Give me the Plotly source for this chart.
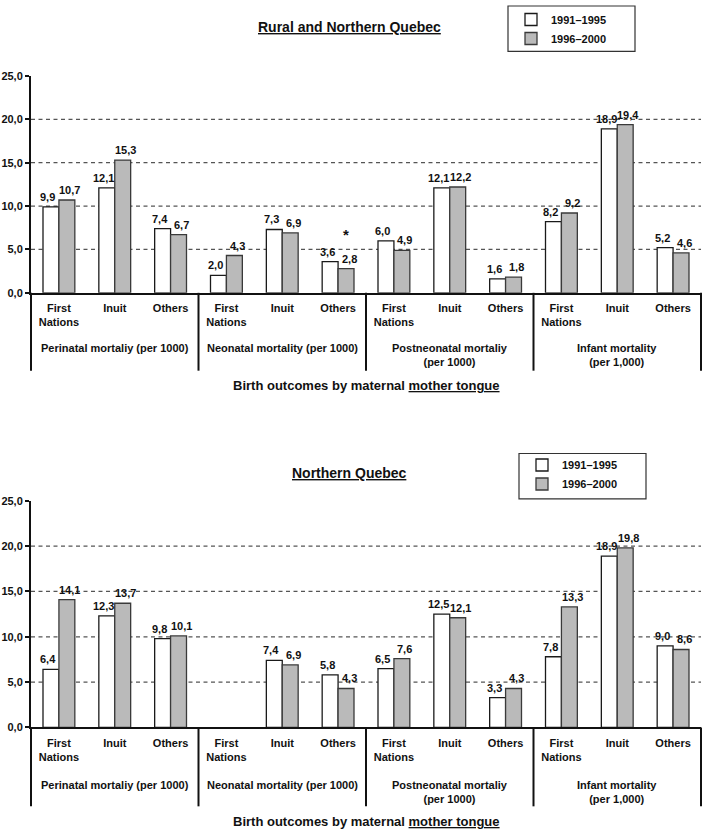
import plotly.graph_objects as go

# ---------------- data ----------------
CATEGORIES = ["First<br>Nations", "Inuit", "Others"] * 4
GROUPS = [
    "Perinatal mortaliy (per 1000)",
    "Neonatal mortality (per 1000)",
    "Postneonatal mortaliy<br>(per 1000)",
    "Infant mortality<br>(per 1,000)",
]
SERIES = ["1991–1995", "1996–2000"]
Y_TICKS = [0, 5, 10, 15, 20, 25]

TOP_TITLE = "Rural and Northern Quebec"
BOTTOM_TITLE = "Northern Quebec"
X_TITLE = "Birth outcomes by maternal <u>mother tongue</u>"

TOP_1991 = [9.9, 12.1, 7.4, 2.0, 7.3, 3.6, 6.0, 12.1, 1.6, 8.2, 18.9, 5.2]
TOP_1996 = [10.7, 15.3, 6.7, 4.3, 6.9, 2.8, 4.9, 12.2, 1.8, 9.2, 19.4, 4.6]
BOT_1991 = [6.4, 12.3, 9.8, None, 7.4, 5.8, 6.5, 12.5, 3.3, 7.8, 18.9, 9.0]
BOT_1996 = [14.1, 13.7, 10.1, None, 6.9, 4.3, 7.6, 12.1, 4.3, 13.3, 19.8, 8.6]
STAR_CATEGORY = 5  # neonatal "Others" in the top panel, 1996-2000

# ---------------- layout helpers ----------------
W, H = 703, 835
ML, MR = 31, 2
PW = W - ML - MR
FONT = "Liberation Sans, Arial, sans-serif"
WHITE_FILL, WHITE_LINE = "#ffffff", "#1a1a1a"
GRAY_FILL, GRAY_LINE = "#bababa", "#3a3a3a"
BARGAP = 0.43
IDX = list(range(len(CATEGORIES)))
N_PER_GROUP = 3
HALF_OFFSET = (1 - BARGAP) / 4  # centre of each bar in a 2-bar group, in category units
LABEL_FONT = dict(family=FONT, size=11, color="#111", weight="bold")


def py(pixel):
    return 1 - pixel / H


def pxx(pixel):
    return (pixel - ML) / PW


def fmt(v):
    return f"{v:.1f}".replace(".", ",")


panels = [
    dict(sfx="", leg="legend", d1=TOP_1991, d2=TOP_1996, ybot=291, ytop=71,
         divbot=370, grp=339, xt=385, title=TOP_TITLE, ttl=21,
         box=(508, 0, 635, 46), legx=511, legy=-1),
    dict(sfx="2", leg="legend2", d1=BOT_1991, d2=BOT_1996, ybot=732, ytop=502,
         divbot=812, grp=782, xt=827, title=BOTTOM_TITLE, ttl=474,
         box=(519, 454, 646, 500), legx=522, legy=451),
]

fig = go.Figure()
shapes, annotations = [], []
layout_axes = {}
legends = {}

for p in panels:
    xa, ya = "x" + p["sfx"], "y" + p["sfx"]
    for k, (name, vals, fill, line) in enumerate([
        (SERIES[0], p["d1"], WHITE_FILL, WHITE_LINE),
        (SERIES[1], p["d2"], GRAY_FILL, GRAY_LINE),
    ]):
        fig.add_trace(go.Bar(
            x=IDX, y=vals, name=name, xaxis=xa, yaxis=ya, legend=p["leg"],
            marker=dict(color=fill, line=dict(color=line, width=1.3)),
            hoverinfo="skip",
        ))
        # value labels drawn above all bars
        sign = -1 if k == 0 else 1
        for i, v in zip(IDX, vals):
            if v is None:
                continue
            annotations.append(dict(
                text=fmt(v), xref=xa, yref=ya, x=i + sign * HALF_OFFSET, y=v,
                xshift=sign * 3, yshift=2, xanchor="center", yanchor="bottom",
                showarrow=False, font=LABEL_FONT,
            ))

    layout_axes["xaxis" + p["sfx"]] = dict(
        domain=[0, 1], anchor=ya, range=[-0.5, len(IDX) - 0.5],
        tickvals=IDX, ticktext=CATEGORIES, ticks="", ticklabelstandoff=4,
        tickfont=dict(family=FONT, size=11, color="#111", weight="bold"),
        showline=True, linecolor="#111", linewidth=2,
        showgrid=False, zeroline=False, fixedrange=True,
    )
    layout_axes["yaxis" + p["sfx"]] = dict(
        domain=[py(p["ybot"]), py(p["ytop"])], anchor=xa,
        range=[Y_TICKS[0], Y_TICKS[-1]], tickvals=Y_TICKS, tickformat=".1f",
        ticks="outside", ticklen=4, tickwidth=1.5, tickcolor="#111",
        tickfont=dict(family=FONT, size=11, color="#111", weight="bold"),
        showline=True, linecolor="#111", linewidth=2,
        showgrid=False, zeroline=False, fixedrange=True,
    )

    # dashed gridlines
    for v in Y_TICKS[1:-1]:
        shapes.append(dict(type="line", xref=xa + " domain", x0=0, x1=1,
                           yref=ya, y0=v, y1=v, layer="below",
                           line=dict(color="#555", width=1.3, dash="4px,3.5px")))

    # group dividers below the axis
    n_groups = len(GROUPS)
    for g in range(n_groups + 1):
        if g == 0 or g == n_groups:
            xr, xv = xa + " domain", (0 if g == 0 else 1)
        else:
            xr, xv = xa, g * N_PER_GROUP - 0.5
        shapes.append(dict(type="line", xref=xr, x0=xv, x1=xv, yref="paper",
                           y0=py(p["ybot"]), y1=py(p["divbot"]),
                           line=dict(color="#111", width=2)))

    # legend frame
    bx0, by0, bx1, by1 = p["box"]
    shapes.append(dict(type="rect", xref="paper", yref="paper",
                       x0=pxx(bx0), x1=pxx(bx1), y0=py(by1), y1=py(by0),
                       line=dict(color="#333", width=1.2), fillcolor="rgba(0,0,0,0)"))

    # group labels
    for g, label in enumerate(GROUPS):
        annotations.append(dict(
            text=label, xref=xa, x=g * N_PER_GROUP + (N_PER_GROUP - 1) / 2,
            yref="paper", y=py(p["grp"]), yanchor="top", showarrow=False,
            font=dict(family=FONT, size=11, color="#111", weight="bold"),
        ))

    # x-axis title
    annotations.append(dict(
        text=X_TITLE, xref=xa + " domain", x=0.5, yref="paper", y=py(p["xt"]),
        yanchor="middle", showarrow=False,
        font=dict(family=FONT, size=13, color="#111", weight="bold"),
    ))
    # panel title
    annotations.append(dict(
        text="<u>" + p["title"] + "</u>", xref="paper", x=pxx(349),
        yref="paper", y=py(p["ttl"]), yanchor="middle", showarrow=False,
        font=dict(family=FONT, size=14, color="#111", weight="bold"),
    ))

    legends[p["leg"]] = dict(
        x=pxx(p["legx"]), y=py(p["legy"]), xanchor="left", yanchor="top",
        borderwidth=0, bgcolor="rgba(0,0,0,0)", traceorder="normal",
        font=dict(family=FONT, size=11, color="#111", weight="bold"),
    )

# asterisk over the neonatal "Others" 1996-2000 bar (top panel)
annotations.append(dict(
    text="*", xref="x", x=STAR_CATEGORY + HALF_OFFSET, yref="y",
    y=TOP_1996[STAR_CATEGORY], yshift=34, yanchor="middle", showarrow=False,
    font=dict(family=FONT, size=15, color="#111", weight="bold"),
))

fig.update_layout(
    width=W, height=H, margin=dict(l=ML, r=MR, t=0, b=0),
    paper_bgcolor="white", plot_bgcolor="white",
    separators=",.", barmode="group", bargap=BARGAP, bargroupgap=0,
    font=dict(family=FONT, color="#111"),
    showlegend=True,
    shapes=shapes, annotations=annotations,
    **legends,
    **layout_axes,
)

fig.write_html(
    "out.html",
    config={"displayModeBar": False},
    post_script="document.body.style.margin='0';document.body.style.padding='0';",
)
